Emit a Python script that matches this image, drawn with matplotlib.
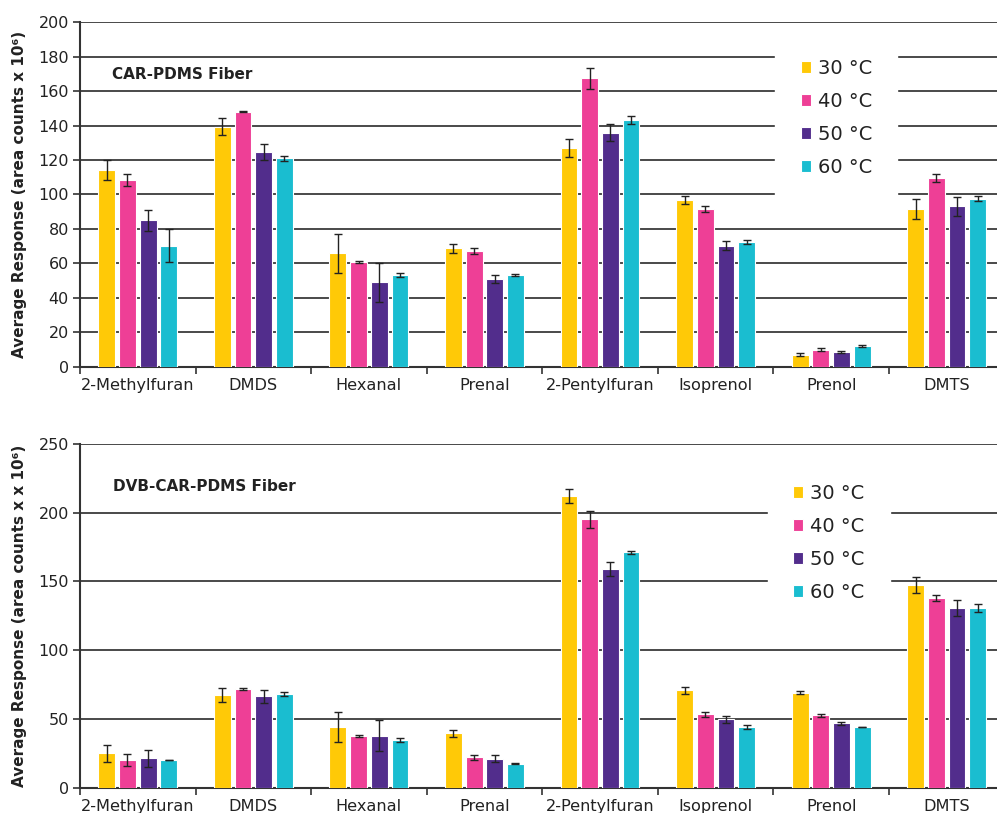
import numpy as np
import matplotlib
matplotlib.use('Agg')
import matplotlib.pyplot as plt

compounds = ['2-Methylfuran', 'DMDS', 'Hexanal', 'Prenal', '2-Pentylfuran',
             'Isoprenol', 'Prenol', 'DMTS']
temps = ['30 °C', '40 °C', '50 °C', '60 °C']
colors = ['#FFC907', '#EE3F96', '#522D8C', '#1ABDD0']

# CAR-PDMS fiber (area counts x 10^6), one list per temperature
car_30 = [114.2, 139.4, 65.8, 68.8, 127.0, 96.8, 7.0, 91.6]
car_40 = [108.4, 148.1, 60.6, 67.4, 167.5, 91.6, 9.9, 109.4]
car_50 = [85.0, 124.7, 49.0, 51.1, 135.9, 70.3, 8.5, 93.1]
car_60 = [70.3, 121.0, 53.3, 53.3, 143.3, 72.6, 12.0, 97.6]
car_30_err = [6.0, 4.8, 11.2, 2.6, 5.0, 2.3, 1.0, 5.7]
car_40_err = [3.5, 0.4, 0.5, 1.7, 6.0, 1.7, 1.0, 2.2]
car_50_err = [6.0, 4.7, 11.2, 2.4, 5.0, 2.4, 0.8, 5.7]
car_60_err = [9.8, 1.3, 1.0, 0.7, 2.2, 1.2, 0.3, 1.4]

# DVB-CAR-PDMS fiber
dvb_30 = [25.0, 67.2, 44.2, 39.6, 212.0, 70.8, 69.1, 147.5]
dvb_40 = [20.1, 71.8, 37.8, 22.1, 195.2, 53.4, 52.7, 138.0]
dvb_50 = [21.4, 66.5, 37.8, 21.1, 159.3, 49.8, 46.8, 130.7]
dvb_60 = [20.1, 68.2, 34.9, 17.5, 171.2, 44.2, 44.2, 130.7]
dvb_30_err = [6.3, 5.0, 11.0, 2.5, 5.2, 2.4, 1.0, 5.7]
dvb_40_err = [4.4, 0.4, 0.7, 1.8, 6.0, 2.0, 1.0, 2.2]
dvb_50_err = [6.0, 4.8, 11.2, 2.5, 5.0, 2.5, 1.0, 5.7]
dvb_60_err = [0.3, 1.3, 1.5, 0.5, 1.0, 1.5, 0.3, 2.7]

plt.rcParams['font.family'] = ['DejaVu Sans']

fig = plt.figure(figsize=(9.97, 8.13), dpi=100)
ax1 = fig.add_axes([80 / 997, 0.549, 924.5 / 997, 0.4236])
ax2 = fig.add_axes([80 / 997, 0.0311, 924.5 / 997, 0.4228])

x = np.arange(len(compounds))
offsets = [(i - 1.5) * 0.179 for i in range(4)]


def draw(ax, series, errs, ymax, ystep, title, title_xy, ylabel, leg_xy):
    for i in range(4):
        ax.bar(x + offsets[i], series[i], width=0.145, color=colors[i],
               edgecolor='white', linewidth=0.8, label=temps[i], zorder=3)
        ax.errorbar(x + offsets[i], series[i], yerr=errs[i], fmt='none',
                    ecolor='#222222', elinewidth=1.0, capsize=3, capthick=1.0,
                    zorder=4)
    ax.set_xlim(-0.5, len(compounds) - 0.5)
    ax.set_ylim(0, ymax)
    ax.set_yticks(np.arange(0, ymax + 1, ystep))
    ax.yaxis.grid(True, color='#3a3a3a', linewidth=1.3, zorder=0)
    ax.set_axisbelow(True)
    ax.set_xticks(x)
    ax.set_xticklabels(compounds, fontsize=11.6)
    ax.set_xticks(np.arange(-0.5, len(compounds)), minor=True)
    ax.tick_params(axis='x', which='major', length=0, pad=8, colors='#222222')
    ax.tick_params(axis='x', which='minor', length=5, width=1.2, color='#333333')
    ax.tick_params(axis='y', length=5, width=1.2, labelsize=11.5,
                   color='#333333', labelcolor='#222222', pad=3)
    for s in ['top', 'right']:
        ax.spines[s].set_visible(False)
    for s in ['left', 'bottom']:
        ax.spines[s].set_color('#333333')
        ax.spines[s].set_linewidth(1.5)
    ax.text(title_xy[0], title_xy[1], title, transform=ax.transAxes,
            fontsize=11, fontweight='bold', color='#222222', va='center')
    leg = ax.legend(loc='center', bbox_to_anchor=leg_xy, fontsize=14,
                    frameon=True, facecolor='white', edgecolor='white',
                    framealpha=1, fancybox=False, handlelength=0.52,
                    handleheight=0.52, handletextpad=0.35, labelspacing=0.72,
                    borderpad=1.3)
    for t in leg.get_texts():
        t.set_color('#222222')
    leg.set_zorder(5)
    pos = ax.get_position()
    fig.text(20 / 997, (pos.y0 + pos.y1) / 2, ylabel, rotation=90,
             ha='center', va='center', fontsize=11, fontweight='bold',
             color='#222222')


draw(ax1, [car_30, car_40, car_50, car_60],
     [car_30_err, car_40_err, car_50_err, car_60_err],
     200, 20, 'CAR-PDMS Fiber', (0.035, 0.847),
     'Average Response (area counts x 10⁶)', (0.818, 0.722))
draw(ax2, [dvb_30, dvb_40, dvb_50, dvb_60],
     [dvb_30_err, dvb_40_err, dvb_50_err, dvb_60_err],
     250, 50, 'DVB-CAR-PDMS Fiber', (0.036, 0.875),
     'Average Response (area counts x x 10⁶)', (0.81, 0.712))

fig.savefig('out.png', dpi=100)
